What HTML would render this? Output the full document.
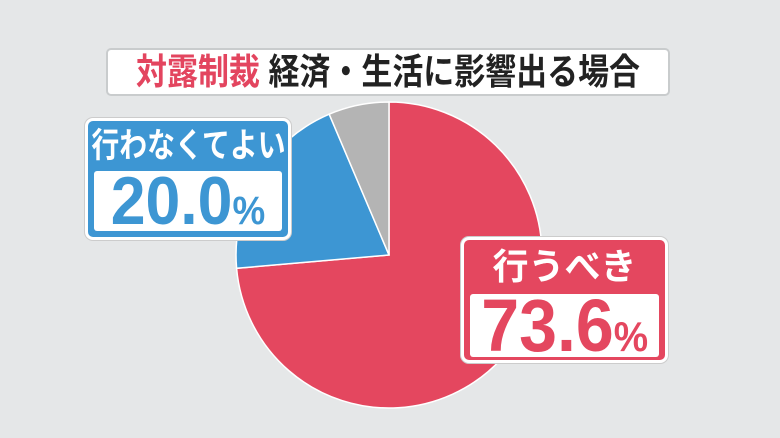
<!DOCTYPE html>
<html><head><meta charset="utf-8"><style>
body{margin:0;width:780px;height:438px;background:#e5e7e8;overflow:hidden;position:relative;font-family:"Liberation Sans","Noto Sans CJK JP",sans-serif}
.t{position:absolute;left:106px;top:48px;width:564px;height:48px;background:#fff;border:2px solid #c9cccd;border-radius:5px;box-sizing:border-box;font-size:36px;font-weight:bold;line-height:44px;text-align:center;color:#222;white-space:nowrap}
.red{color:#e3455f}
.box{position:absolute;border:3px solid #fff;border-radius:8px;box-sizing:border-box;overflow:hidden;box-shadow:0 0 0 1px #ccc}
.hd{color:#fff;font-weight:bold;text-align:center;white-space:nowrap}
.vl{background:#fff;margin:0 6px 6px 6px;border-radius:3px;text-align:center;font-weight:bold;white-space:nowrap}
.sx{display:inline-block;transform:scaleX(0.82)}
</style></head><body>
<svg width="780" height="438" style="position:absolute;left:0;top:0">
<path d="M389,255 L389,102 A153,153 0 1 1 236.6,268.3 Z" fill="#e4475f" stroke="#fff" stroke-width="1.5"/>
<path d="M389,255 L236.6,268.3 A153,153 0 0 1 329.2,114.2 Z" fill="#3d96d3" stroke="#fff" stroke-width="1.5"/>
<path d="M389,255 L329.2,114.2 A153,153 0 0 1 389,102 Z" fill="#b4b4b4" stroke="#fff" stroke-width="1.5"/>
</svg>
<div class="t"><span class="sx" style="transform:scaleX(0.86);margin:0 -40px"><span class="red">対露制裁</span> 経済・生活に影響出る場合</span></div>
<div class="box" style="left:85px;top:118px;width:206px;height:122px;background:#3d96d3">
<div class="hd" style="font-size:34px;line-height:50px;height:50px"><span class="sx" style="margin-left:-20px;margin-right:-20px">行わなくてよい</span></div>
<div class="vl" style="color:#3d96d3;font-size:68px;line-height:60px;height:60px"><span class="sx" style="transform:scaleX(0.92);margin:0 -10px">20.0<span style="font-size:40px">%</span></span></div>
</div>
<div class="box" style="left:461px;top:237px;width:207px;height:126px;background:#e4475f">
<div class="hd" style="font-size:36px;line-height:54px;height:54px">行うべき</div>
<div class="vl" style="color:#e4475f;font-size:74px;line-height:63px;height:63px"><span class="sx" style="transform:scaleX(0.92);margin:0 -10px">73.6<span style="font-size:42px">%</span></span></div>
</div>
</body></html>
